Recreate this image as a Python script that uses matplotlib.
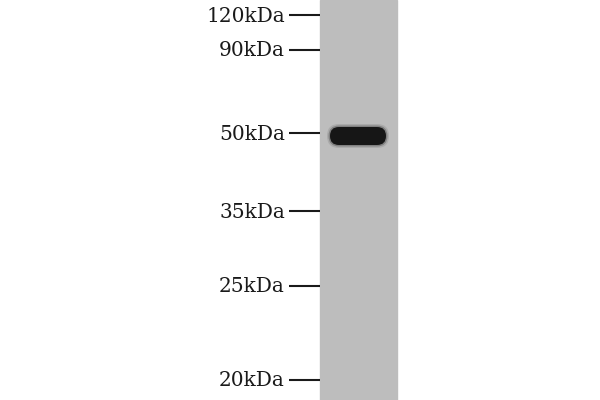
import matplotlib.pyplot as plt
from matplotlib.patches import FancyBboxPatch

# marker ladder (label, row in the blot, px from top)
marker_labels = ['120kDa', '90kDa', '50kDa', '35kDa', '25kDa', '20kDa']
marker_rows = [15, 50, 133, 211, 286, 380]

# one lane with one band at ~50 kDa
lane_left, lane_right = 320, 397
band_row = 136
band_height = 18
band_left, band_right = 330, 386

fig = plt.figure(figsize=(6, 4), dpi=100)
ax = fig.add_axes([0, 0, 1, 1])
ax.set_xlim(0, 600)
ax.set_ylim(400, 0)
ax.axis('off')

# lane background
ax.axvspan(lane_left, lane_right, color='#bdbdbd', zorder=1)

# marker ticks and labels
ax.hlines(marker_rows, 289, lane_left, color='#1a1a1a', lw=1.5, zorder=2)
for lab, y in zip(marker_labels, marker_rows):
    ax.text(285, y + 1, lab, ha='right', va='center', fontsize=14.5,
            family='DejaVu Serif', color='#1a1a1a')

# band: soft halo + dark core
w = band_right - band_left
h = band_height
for pad, alpha in [(3, 0.12), (1.5, 0.3)]:
    ax.add_patch(FancyBboxPatch((band_left - pad, band_row - h / 2 - pad), w + 2 * pad, h + 2 * pad,
                                boxstyle='round,pad=0,rounding_size=%g' % ((h + 2 * pad) / 2),
                                fc='#222222', ec='none', alpha=alpha, zorder=3))
ax.add_patch(FancyBboxPatch((band_left, band_row - h / 2), w, h,
                            boxstyle='round,pad=0,rounding_size=%g' % (h / 2),
                            fc='#161616', ec='none', zorder=4))

fig.savefig('out.png', dpi=100)
